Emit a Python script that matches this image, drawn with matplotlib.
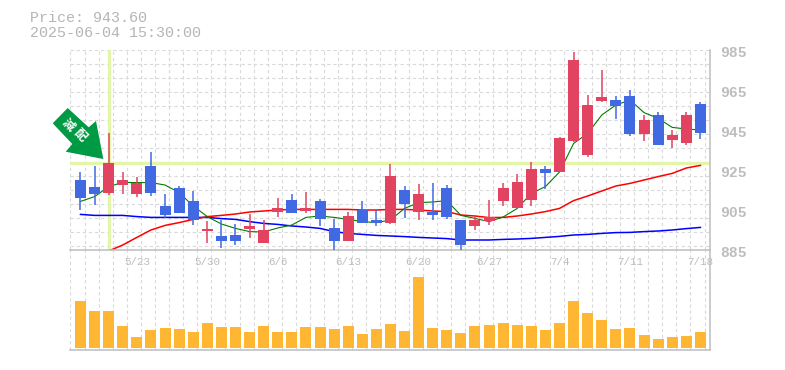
import matplotlib
matplotlib.use('Agg')
from matplotlib import pyplot as plt
from matplotlib.patches import Polygon
from matplotlib.transforms import Affine2D
import numpy as np

# rows run from 5/19 to 7/18, one per trading day
highs = [924, 927, 943.3, 924, 921.5, 934, 913, 917, 914.5, 899.5, 900, 898, 903, 900, 911,
         913, 914, 910.5, 900.5, 904, 909.5, 905, 928, 917, 918, 918.5, 917.5, 900, 902.5, 910,
         918.5, 923, 929, 927, 941.5, 984, 962.5, 975, 962, 965, 952.5, 954, 945, 954, 959]
lows = [905, 907.5, 912.5, 913, 911.5, 912, 901, 903.3, 897.5, 888.5, 886, 887.5, 891, 888.5, 901.5,
        903.5, 903.5, 897, 884.7, 889.5, 898.5, 897, 898, 901, 900, 900, 900.5, 885, 895, 897.5,
        907, 906, 907, 915.5, 924, 939, 931.5, 959, 950.5, 942, 939.5, 937.5, 936, 937.5, 940.5]
tops = [920, 916.5, 928.5, 920, 918.5, 927, 907, 916, 909.5, 895.5, 892, 892.5, 897, 895, 906,
        910, 906, 909.5, 896, 902, 905, 900, 922, 915, 913, 904, 916, 900, 900, 901.5,
        916, 919, 925.5, 925.5, 941, 980, 957.5, 961.5, 960, 962, 950, 952.5, 942.5, 952.5, 958]
bottoms = [911, 913, 913.5, 917.5, 913, 913.5, 902.5, 903.5, 900, 894.5, 889.5, 889.5, 895.5, 888.5, 904,
           903.5, 904.5, 900.5, 889.5, 889.5, 898.5, 898.5, 898.5, 908, 904, 902.5, 901.5, 887.5, 897, 899.5,
           909.5, 906, 910, 923.5, 924, 939.5, 932.5, 959.5, 957, 943, 943, 937.5, 940, 938.5, 943.5]
is_up = [0, 0, 1, 1, 1, 0, 0, 0, 0, 1, 0, 0, 1, 1, 1,
         0, 1, 0, 0, 1, 0, 0, 1, 0, 1, 0, 0, 0, 1, 1,
         1, 1, 1, 0, 1, 1, 1, 1, 0, 0, 1, 0, 1, 1, 0]

ma_short = [909.3, 911.7, 916.7, 918.8, 918.7, 918.7, 917.5, 913.7, 907, 901.7, 898, 895.8, 894.2, 894, 896,
            897.5, 901.3, 902, 901.3, 900.3, 899.2, 898.7, 900, 905.8, 908.7, 909, 909.7, 902.3, 900.8, 899.2,
            901.5, 905.8, 913.3, 916.7, 924, 938.3, 943.3, 952.5, 957.5, 960, 953.7, 950.8, 946.3, 945.5, 945]
ma_mid = [None, None, 884.5, 887.5, 891.3, 895, 897.3, 898.7, 900.3, 901.7, 902.3, 903, 904, 904.5, 905,
          905.3, 905.3, 905.3, 905.3, 905.3, 905, 905, 905.3, 905.3, 905, 904.5, 904.2, 902.5, 902, 901.2,
          901.3, 902, 903, 904.2, 905.8, 909.7, 912, 914.5, 917, 918.3, 920, 921.7, 923.3, 926, 927.3]
ma_long = [902.8, 902.3, 902.3, 902.3, 901.7, 901.3, 901.3, 901.3, 901.3, 901.3, 900.7, 900.3, 899.2, 898.3, 897.8,
           897, 896.5, 895.8, 894.2, 893.3, 892.8, 892.3, 892, 891.7, 891.3, 891, 890.7, 890, 890, 890,
           890.3, 890.5, 890.8, 891.3, 891.8, 892.5, 892.8, 893.3, 893.7, 893.8, 894.2, 894.5, 895, 895.7, 896.3]

volumes = [47, 37, 37, 22, 11, 18, 20, 19, 16, 25, 21, 21, 16, 22, 16,
           16, 21, 21, 19, 22, 14, 19, 24, 17, 71, 20, 18, 15, 22, 23,
           25, 23, 22, 18, 25, 47, 35, 28, 19, 20, 13, 9, 11, 12, 16]

date_labels = ['5/23', '5/30', '6/6', '6/13', '6/20', '6/27', '7/4', '7/11', '7/18']
date_idx = [4, 9, 14, 19, 24, 29, 34, 39, 44]
price_labels = [985, 965, 945, 925, 905, 885]
marker_price = 928.5
marker_idx = 2

RED = '#e14360'
BLUE = '#4169e1'
GRAY = '#bdbdbd'
GRID = '#d9d9d9'
MARK = '#e3f5a8'
MONO = 'Liberation Mono'

W, H = 785, 370
fig = plt.figure(figsize=(W / 100, H / 100), dpi=100)
ax_v = fig.add_axes([70 / W, 1 - 350 / H, 640 / W, 100 / H])
ax = fig.add_axes([70 / W, 1 - 250 / H, 640 / W, 200 / H])

x = np.arange(len(highs))
xlim = (-0.745, 44.68)
dash = (0, (3, 2.5))

for a in (ax, ax_v):
    a.set_xlim(xlim)
    a.patch.set_visible(False)
    for i in range(46):
        a.axvline(i - 0.71, color=GRID, lw=0.8, ls=dash, zorder=0)
    for s in ('top', 'left'):
        a.spines[s].set_visible(False)
    for s in ('bottom', 'right'):
        a.spines[s].set_color(GRAY)
        a.spines[s].set_linewidth(1.1)
    a.set_yticks([])
    a.set_xticks([])

# horizontal grid only in the price panel
ax.set_ylim(885, 985)
for k in range(15):
    ax.axhline(985 - 7 * k, color=GRID, lw=0.8, ls=dash, zorder=0)

ax.axhline(marker_price, color=MARK, lw=2.3, zorder=1)
ax.axvline(marker_idx, color=MARK, lw=2.3, zorder=1)

ax.plot(x, ma_long, color='#0000ff', lw=1.1, zorder=2, solid_joinstyle='round')
ax.plot(x, [np.nan if v is None else v for v in ma_mid], color='#ff0000', lw=1.1, zorder=2)
ax.plot(x, ma_short, color='#007d00', lw=0.8, zorder=2)

colors = [RED if u else BLUE for u in is_up]
ax.vlines(x, lows, highs, colors=colors, lw=1.1, zorder=3)
ax.bar(x, np.array(tops) - np.array(bottoms), bottom=bottoms, width=0.78, color=colors, zorder=4)

ax_v.set_ylim(-2, 98)
ax_v.bar(x, volumes, width=0.78, color='#ffb733', zorder=2)

for i, lab in zip(date_idx, date_labels):
    ax.text(i, -0.06, lab, transform=ax.get_xaxis_transform(), ha='center', va='center',
            family=MONO, fontsize=7.8, color=GRAY, clip_on=False)
for p in price_labels:
    ax.text(1.0165, p - 1.5, str(p), transform=ax.get_yaxis_transform(), ha='left', va='center',
            family=MONO, fontsize=10.6, fontweight='bold', color=GRAY, clip_on=False)

fig.text(30 / W, 1 - 18 / H, 'Price: 943.60', ha='left', va='center', family=MONO, fontsize=10.8, color='#b5b5b5')
fig.text(30 / W, 1 - 33 / H, '2025-06-04 15:30:00', ha='left', va='center', family=MONO, fontsize=10.8, color='#b5b5b5')

# arrow badge, drawn in pixels from the top left
px = Affine2D().scale(1 / W, -1 / H).translate(0, 1) + fig.transFigure
arrow = [(67.7, 108), (52.7, 123.3), (72.3, 144), (65.7, 151.7), (103.3, 159), (96, 121), (88.7, 127.3)]
fig.add_artist(Polygon(arrow, closed=True, facecolor='#009944', edgecolor='none', transform=px, zorder=5))
for (tx, ty), ch in zip([(68.5, 125), (80, 135.5)], '減配'):
    fig.text(tx, ty, ch, transform=px, rotation=-45, ha='center', va='center', rotation_mode='anchor',
             family=['Noto Sans CJK JP', 'DejaVu Sans'], fontsize=8.8, fontweight='bold', color='white', zorder=6)

fig.savefig('out.png', dpi=100)
